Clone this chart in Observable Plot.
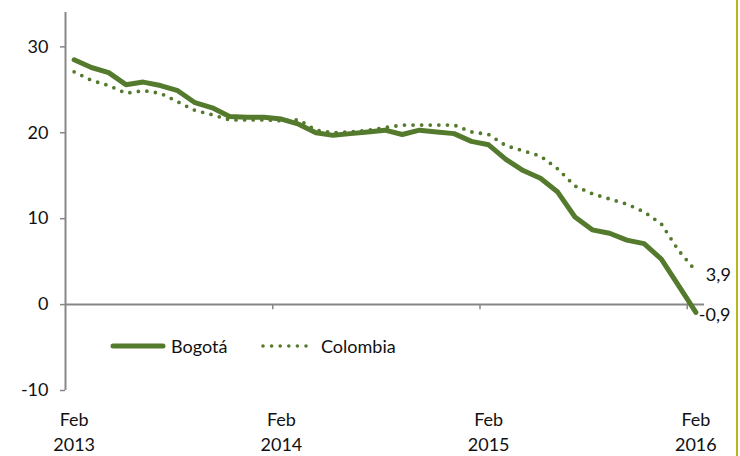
<!DOCTYPE html>
<html>
<head>
<meta charset="utf-8">
<script src="https://cdn.jsdelivr.net/npm/d3@7"></script>
<script src="https://cdn.jsdelivr.net/npm/@observablehq/plot@0.6"></script>
<style>
  html, body { margin: 0; padding: 0; background: #fff; }
  #wrap { position: relative; width: 740px; height: 456px; font-family: Lato, "Open Sans", sans-serif; }
  #frame-line { position: absolute; left: 736px; top: 0; width: 2px; height: 456px; background: #b3b81f; }
  .leg { position: absolute; top: 335px; display: flex; align-items: center; font-size: 18px; color: #111; }
  .leg svg { margin-right: 5px; }
</style>
</head>
<body>
<div id="wrap">
  <div id="chart"></div>
  <div class="leg" style="left:110px;">
    <svg width="56" height="20"><line x1="3" x2="53" y1="10" y2="10" stroke="#547a2d" stroke-width="5" stroke-linecap="round"/></svg>
    <span>Bogotá</span>
  </div>
  <div class="leg" style="left:260px;">
    <svg width="56" height="20"><line x1="3" x2="51" y1="10" y2="10" stroke="#547a2d" stroke-width="3.6" stroke-linecap="round" stroke-dasharray="0 8.6"/></svg>
    <span>Colombia</span>
  </div>
  <div id="frame-line"></div>
</div>
<script>
// Monthly series, Feb 2013 .. Feb 2016 (37 months)
const months = d3.utcMonth.range(new Date(Date.UTC(2013, 1, 1)), new Date(Date.UTC(2016, 2, 1)));
const bogota = [28.5, 27.6, 27.0, 25.6, 25.9, 25.5, 24.9, 23.5, 22.9, 21.9, 21.8, 21.8, 21.6, 21.0, 20.0, 19.7, 19.9, 20.1, 20.3, 19.8, 20.3, 20.1, 19.9, 19.0, 18.6, 16.9, 15.6, 14.7, 13.1, 10.2, 8.7, 8.3, 7.5, 7.1, 5.3, 2.2, -0.9];
const colombia = [27.1, 26.1, 25.5, 24.6, 24.9, 24.6, 23.6, 22.6, 22.1, 21.5, 21.5, 21.5, 21.4, 21.5, 20.3, 20.0, 20.1, 20.3, 20.6, 20.9, 20.9, 20.9, 20.9, 20.1, 19.8, 18.5, 17.9, 17.3, 15.8, 13.8, 12.9, 12.3, 11.7, 10.8, 9.4, 6.3, 3.9];
const yTicks = [-10, 0, 10, 20, 30];
const xTickIndex = [0, 12, 24, 36];
const xTickMonth = ["Feb", "Feb", "Feb", "Feb"];
const xTickYear = ["2013", "2014", "2015", "2016"];
const boundaryTicks = [11.5, 23.5, 35.5];

const green = "#547a2d";
const gray = "#878787";
const fs = 18;

const bData = bogota.map((v, i) => ({i, v, date: months[i]}));
const cData = colombia.map((v, i) => ({i, v, date: months[i]}));
const fmt = v => v.toFixed(1).replace(".", ",");
const xLabels = xTickIndex.map((i, k) => ({i, m: xTickMonth[k], y: xTickYear[k]}));

const chart = Plot.plot({
  width: 740,
  height: 456,
  marginLeft: 65,
  marginRight: 36,
  marginTop: 12,
  marginBottom: 66,
  style: {fontFamily: "Lato, 'Open Sans', sans-serif", fontSize: fs + "px", color: "#111", background: "#fff"},
  x: {domain: [-0.5, 36.5], axis: null},
  y: {domain: [-10, 34], axis: null},
  marks: [
    Plot.axisY({ticks: yTicks, label: null, tickSize: 5, tickPadding: 12, stroke: gray, strokeWidth: 1.5, strokeOpacity: 1, fontSize: fs, fill: "#111", tickFormat: d => String(d)}),
    Plot.ruleX([-0.5], {stroke: gray, strokeWidth: 2}),
    Plot.ruleY([0], {stroke: gray, strokeWidth: 2}),
    Plot.ruleX(boundaryTicks, {y1: 0, y2: -0.6, stroke: gray, strokeWidth: 1.5}),
    Plot.line(cData, {x: "i", y: "v", stroke: green, strokeWidth: 3.8, strokeLinecap: "round", strokeDasharray: "0 8.6"}),
    Plot.line(bData, {x: "i", y: "v", stroke: green, strokeWidth: 5, strokeLinejoin: "round"}),
    Plot.text([cData[cData.length - 1]], {x: "i", y: "v", text: d => fmt(d.v), textAnchor: "start", dx: 10, dy: 4, fontSize: fs, fill: "#111"}),
    Plot.text([bData[bData.length - 1]], {x: "i", y: "v", text: d => fmt(d.v), textAnchor: "start", dx: 3, dy: 3, fontSize: fs, fill: "#111"}),
    Plot.text(xLabels, {x: "i", y: -10, text: "m", dy: 30, fontSize: fs, fill: "#111"}),
    Plot.text(xLabels, {x: "i", y: -10, text: "y", dy: 55, fontSize: fs, fill: "#111"})
  ]
});
document.getElementById("chart").appendChild(chart);
</script>
</body>
</html>
